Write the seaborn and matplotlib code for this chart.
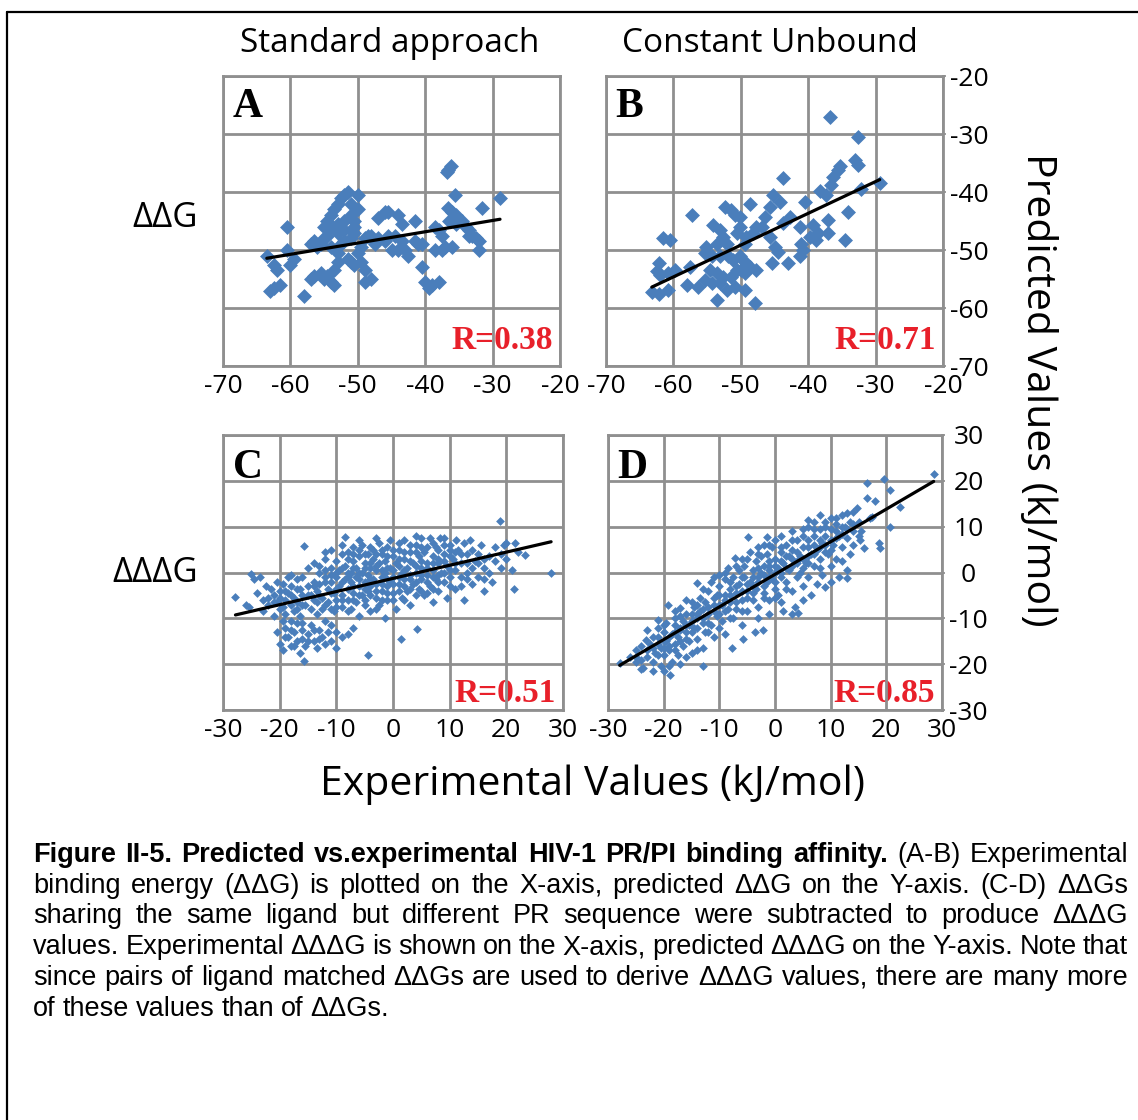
import numpy as np
import matplotlib
matplotlib.use("Agg")
import matplotlib.pyplot as plt
from matplotlib.lines import Line2D
import seaborn as sns

# ---- data (kJ/mol) ----
panel_a = [
    (-63.5, -51), (-62.5, -52.5), (-62, -53.5), (-62.5, -56.5), (-61.5, -56), (-63, -57),
    (-60.5, -46), (-60.5, -50), (-59.5, -51.5), (-60, -52.5),
    (-58, -58), (-57, -55), (-56.5, -54.5), (-55.5, -54), (-55, -55), (-54.5, -54.5),
    (-57, -49), (-56.5, -48.5), (-56, -49.5),
    (-54, -44), (-54, -46), (-53.5, -43), (-53, -42), (-53, -47), (-52.5, -41), (-52, -40.5),
    (-52, -45), (-51.5, -40), (-51, -42), (-51, -44), (-50.5, -46), (-50.5, -47), (-50, -40.5),
    (-50, -43), (-54.5, -47.5), (-55, -48), (-55.5, -49), (-54, -49.5), (-53, -50.5),
    (-52.5, -49), (-52, -48.5), (-51.5, -51.5), (-51, -52), (-50.5, -52.5), (-50, -50.5),
    (-49.5, -49.5), (-53.5, -53.5), (-53, -52), (-54, -55.5), (-53.5, -56), (-49.5, -52),
    (-49, -53.5), (-49, -55.5), (-48, -55), (-50.5, -45), (-51, -48), (-52, -46.5),
    (-53, -45.5), (-55, -46), (-54.5, -45), (-49, -48), (-48.5, -47.5), (-48, -47.5),
    (-47.5, -49),
    (-47, -44.5), (-46, -43.5), (-45.5, -43.5), (-44, -44), (-43.5, -45.5), (-45.5, -47.5),
    (-44.5, -47.5), (-43.5, -48.5), (-44, -50), (-45, -50), (-43, -50), (-42.5, -51),
    (-41.5, -45), (-46, -48.5), (-47, -48), (-41, -49), (-41.5, -48.5), (-40.5, -49),
    (-40.5, -53), (-40, -55.5), (-39.5, -56.5), (-39, -56), (-38, -55.5),
    (-38.5, -46), (-38, -46.5), (-37.5, -47.5), (-38.5, -50), (-37.5, -50), (-37, -49.5),
    (-36, -49.5), (-36.5, -45), (-36, -43.5), (-35.5, -45.5), (-34.5, -45), (-34, -46),
    (-33.5, -47.5), (-33, -47.5), (-32.5, -48), (-32, -48.5), (-32, -50), (-31.5, -42.8),
    (-28.9, -41.1), (-35.6, -40.5), (-36.6, -36.2), (-36.1, -35.6), (-36.8, -36.5),
    (-35.5, -44), (-36.6, -42.8), (-33.5, -46.5),
]

panel_b = [
    (-36.8, -27.0), (-32.6, -30.5), (-33.1, -34.5), (-32.6, -35.3), (-35.3, -35.6),
    (-35.6, -36.2), (-29.4, -38.5), (-32.1, -39.4), (-43.7, -37.6), (-36.3, -37.4),
    (-36.6, -38.8), (-38.3, -39.9), (-37.3, -40.5), (-45.2, -40.5), (-44.2, -41.7),
    (-45.7, -42.5), (-40.5, -41.7), (-48.7, -42.0), (-52.4, -42.5), (-51.4, -43.1),
    (-50.9, -44.0), (-57.3, -44.0), (-34.1, -43.4), (-37.0, -44.8), (-37.0, -47.1),
    (-34.6, -48.3), (-39.3, -45.7), (-38.5, -47.1), (-39.8, -47.7), (-38.8, -48.3),
    (-41.2, -46.0), (-41.0, -48.9), (-40.8, -50.0), (-41.2, -51.1), (-42.7, -44.3),
    (-43.7, -45.4), (-46.4, -44.3), (-46.9, -46.0), (-45.7, -47.7), (-45.0, -49.4),
    (-44.5, -50.3), (-47.7, -46.0), (-48.2, -47.1), (-49.2, -47.7), (-50.1, -44.3),
    (-50.1, -46.0), (-50.6, -47.1), (-49.4, -48.9), (-54.1, -45.7), (-53.1, -46.6),
    (-52.6, -47.7), (-53.6, -48.9), (-52.1, -48.9), (-61.5, -48.0), (-60.5, -48.3),
    (-55.1, -49.4), (-55.3, -50.6), (-54.3, -51.1), (-53.1, -51.1), (-51.9, -51.1),
    (-51.1, -51.7), (-50.1, -51.1), (-49.4, -52.0), (-54.6, -53.4), (-53.6, -54.0),
    (-52.6, -54.6), (-51.4, -54.6), (-50.6, -53.4), (-49.9, -53.4), (-48.7, -52.9),
    (-49.4, -54.0), (-47.7, -53.4), (-45.4, -52.3), (-43.0, -52.3), (-62.2, -52.3),
    (-62.5, -53.7), (-62.0, -54.3), (-60.8, -54.0), (-59.8, -53.4), (-57.5, -52.9),
    (-58.0, -56.0), (-56.3, -56.3), (-55.3, -55.2), (-54.3, -55.7), (-53.1, -55.7),
    (-52.1, -56.9), (-50.9, -56.3), (-49.4, -56.9), (-63.2, -57.2), (-62.2, -57.5),
    (-60.8, -56.9), (-53.6, -58.6), (-47.9, -59.2),
]

panel_c = [
    (-27.8, -5.3), (-25, -0.3), (-24.5, -1.5), (-23.5, -1.0), (-24, -4.5), (-23, -6),
    (-25.5, -7.5), (-22.5, -3), (-22, -5.5), (-23, -8.5), (-26, -7),
    (-21.5, -3.5), (-21, -5), (-20.5, -6.5), (-20, -4), (-20, -8), (-19.5, -2.5), (-19, -6),
    (-19, -9), (-18.5, -4.5), (-18, -7), (-18, -3), (-17.5, -5.5), (-17.5, -8.5), (-17, -1.5),
    (-17, -6.5), (-21, -9.5), (-20.5, -2), (-19.5, -10.5), (-18.5, -1), (-15.7, 5.8),
    (-18, -0.5), (-16.5, -3.5),
    (-20.5, -13), (-20, -15.5), (-19.5, -17), (-19, -12), (-18.5, -14), (-18, -16),
    (-17.5, -13), (-17, -15), (-17, -11), (-16.5, -17.5), (-16, -12.5), (-16, -14.5),
    (-15.7, -19.2), (-15.5, -16), (-15, -13.5), (-14.5, -11.5), (-14, -15), (-13.5, -16.5),
    (-13, -12.5), (-12.5, -14), (-12, -15.5), (-11.5, -13), (-11, -11.5), (-10, -16.5),
    (-9, -14), (-8, -13.5), (-18, -10.5), (-16.5, -9.5), (-13.5, -9), (-12, -10.5),
    (-16, -5), (-16, -1), (-15.5, -7), (-15, -3), (-15, 1), (-14.5, -5), (-14.5, -8),
    (-14, -2), (-14, 2), (-13.5, -4), (-13.5, -6.5), (-13, 0), (-13, -2.5), (-12.5, -5.5),
    (-12.5, -8), (-12, -1), (-12, 3), (-11.5, -3.5), (-11.5, -6.5), (-11, 1), (-11, -2),
    (-10.5, -4.5), (-10.5, -8.5), (-10, -1), (-10, 2.5), (-10, -6), (-8.4, 7.8),
    (-9.5, -3), (-9.5, 0.5), (-9, -5), (-9, -7.5), (-9, 4),
    (-8.5, -1.5), (-8.5, 1.5), (-8, -3.5), (-8, -6), (-8, 4.5), (-7.5, 0), (-7.5, -2),
    (-7.5, -8), (-7, 2.5), (-7, -4.5), (-7, 5.5), (-6.5, -1), (-6.5, -6.5), (-6.5, 1),
    (-6, 3.5), (-6, -3), (-6, -9.5), (-5.5, 0), (-5.5, -5), (-5.5, 6), (-5, 2), (-5, -2),
    (-5, -7), (-4.5, 4), (-4.5, -0.5), (-4.5, -4), (-4.4, -18), (-4, 1), (-4, -3),
    (-4, -8.5), (-3.5, 5), (-3.5, -1.5), (-3.5, 3), (-3, -5.5), (-3, 0.5), (-3, -2.5),
    (-2.5, 2), (-2.5, -7), (-2.5, 6.5), (-2, -1), (-2, 4), (-2, -4), (-1.5, 0),
    (-1.5, -10), (-1.5, 2.5), (-1, -3), (-1, 5.5), (-1, -6), (-0.5, 1), (-0.5, -2),
    (-0.5, 7), (0, 3.5), (0, -4.5), (0, -1), (0.5, -8), (1.4, -14.4),
    (0.5, 2), (1, -2.5), (1, 5), (1.5, 0), (1.5, -5.5), (2, 3), (2, -1.5), (2, 7),
    (2.5, 1), (2.5, -4), (3, 4.5), (3, -0.5), (3, -7), (3.5, 2), (3.5, -2.5), (4, 6),
    (4, 0), (4.3, -12.3), (4.5, -3.5), (4.5, 3.5), (5, 1), (5, -1.5), (5, 7.5), (5.5, -5),
    (5.5, 4.5), (6, 2), (6, -0.5), (6.5, 7.5), (6.5, -3), (7, 3.5), (7, 0.5), (7, -6.5),
    (7.5, 5.5), (7.5, -1.5), (8, 2), (8, -4), (8.3, 7.5), (8.5, 0), (9, 4), (9, -2),
    (9.5, -5.5), (9.5, 1.5), (10, 6), (10, -1),
    (10.5, 3), (11, -3.5), (11, 0.5), (11.2, 7.2), (11.5, 5), (12, -1), (12, 2),
    (12.5, -6), (13, 4), (13, 0), (13.5, 7), (14, -2.5), (14.5, 2.5), (15, -1), (15.5, 6),
    (16, -4), (16, 1), (17, 3.5), (17.5, -2), (18, 5.5), (18.8, 11.3), (19.5, 6), (19, 1),
    (20, 3), (21, 0.5), (21.3, -3.7), (22, 4.5), (23.3, 3.8), (27.9, 0), (21.5, 6.5),
    (12.5, 6.5), (15, 4),
    (-14, -3), (-13, -5), (-12, -2), (-11, -4.5), (-10, -3.5), (-9, -2), (-8, -1), (-7, -3),
    (-6, -1.5), (-5, -3.5), (-4, -1.5), (-3, -4), (-2, -2.5), (-1, -1.5), (0, -2.5), (1, -1),
    (2, -3), (3, -1.5), (4, -2), (5, -0.5), (6, -2), (7, -1), (8, -0.5), (9, 0), (10, 0.5),
    (-13, 1.5), (-12, 0.5), (-11, -0.5), (-10, 0), (-9, 1), (-8, 0), (-7, 1), (-6, 0),
    (-5, 1), (-4, 2), (-3, 1.5), (-2, 0.5), (-1, 1), (0, 0.5), (1, 1.5), (2, 0.5), (3, 2.5),
    (4, 1.5), (5, 2.5), (6, 1), (7, 2), (8, 3), (9, 2.5), (10, 3.5), (11, 2),
    (-14, -6), (-12, -7), (-11, -8), (-10, -7.5), (-9, -6), (-8, -8.5), (-7, -6), (-6, -5),
    (-5, -6), (-4, -5), (-3, -8), (-2, -6), (-1, -4.5), (0, -6), (1, -4), (2, -6),
    (3, -3.5), (4, -5), (5, -4), (6, -4.5), (7, -3.5), (8, -2), (10, -3),
    (-8, 3), (-7, 4), (-6, 5), (-5, 4), (-4, 5.5), (-3, 4), (-2, 5), (-1, 3.5), (0, 5),
    (1, 3), (2, 4.5), (3, 6), (4, 4.5), (5, 5.5), (6, 5.5), (7, 6.5), (8, 5), (9, 6),
    (10, 5), (11, 4.5), (12, 4), (13, 2), (14, 5),
    (-20, -5.5), (-19, -4), (-18, -5), (-17, -3.5), (-16, -7), (-15, -5), (-22, -7),
    (-21, -6.5), (-19.5, -7.5), (-17, -8),
    (-19, -14), (-18, -12.5), (-17.5, -16), (-16, -11), (-15, -15), (-14, -12.5),
    (-13, -14.5), (-11, -15), (-10, -13), (-7, -12),
    (12, -3), (13, -1.5), (14, 1), (15, 2), (16, 3), (17, 0), (18, 2.5), (19, 4), (20, 6.5),
    (16, -1.5), (-6, 7), (-3, 7.5), (1, 6.5), (4, 8), (9, 7.5), (-11, 5), (-12, 4.5), (-9, 6),
]

panel_d = [
    (-27.9, -19.8), (-26, -18.5), (-25, -19.5), (-24.9, -18.4), (-24, -16), (-23.7, -20.9),
    (-23.1, -14.7), (-23, -17), (-22.5, -15.5), (-22, -19.5), (-21.5, -17.5), (-21, -10.4),
    (-21, -14), (-20.5, -16.5), (-20.5, -20.5), (-20, -13), (-20, -18), (-20, -21.5),
    (-19.5, -15), (-19.5, -11),
    (-19.2, -7.1), (-19, -17), (-18.9, -22.4), (-18.5, -13.5), (-18.5, -19.5), (-18, -11.5),
    (-18, -15.5), (-17.5, -14), (-17.5, -18), (-17.1, -7.8), (-17, -12.5), (-17, -9.5),
    (-16.5, -16), (-16.5, -10.5), (-16, -13), (-16, -6), (-15.5, -11.5), (-15.5, -15),
    (-15, -9), (-15, -17.5), (-14.5, -7.5), (-14.5, -12), (-14.1, -2.2), (-14, -10),
    (-14, -14.5), (-13.5, -5.5), (-13.5, -8.5), (-13, -11), (-12.9, -20.5), (-13, -16.5),
    (-12.5, -6.5), (-12.5, -13),
    (-12, -4), (-12, -9), (-11.5, -11.5), (-11.5, -2), (-11, -7), (-11, -14), (-10.5, -5),
    (-10.5, -9.5), (-10, -3), (-10, -12), (-10, -0.5), (-9.5, -7), (-9.5, -10.5),
    (-9, -1.5), (-9, -5), (-9, -13.5), (-8.5, -8), (-8.5, 1), (-8, -3.5), (-8, -6.5),
    (-7.8, -16.5), (-7.5, -1), (-7.5, -10), (-7.2, 3.1), (-7, -4.5), (-7, -8), (-6.5, 0.5),
    (-6.5, -2.5), (-6, -6), (-6, -11.5), (-6, 3), (-5.7, -14.4), (-5.5, -1), (-5.5, 1.5),
    (-5, -4), (-5, -8.5), (-4.8, 7.8), (-4.5, 4.5), (-4.5, -2), (-4, -6), (-4, 0.5),
    (-3.6, -12.9), (-3.5, 2.5), (-3.5, -3.5), (-3, 5.5), (-3, -1), (-3, -7.5), (-2.5, 3.5),
    (-2.5, 0), (-2.1, -12.5), (-2, 6), (-2, -4.5), (-2, 1.5), (-1.5, 7.8), (-1.5, -2),
    (-1.5, 4), (-1, 0.5), (-1, -6), (-1, 2.5), (-0.5, 5.5), (-0.5, -1.5), (0, 3),
    (0, -3.5), (0, 7), (0.5, 1), (0.5, -5), (1, 4.5), (1, -1), (1, 8), (1.5, 2),
    (1.5, -8.5), (2, 6), (2, -2), (2.5, 3.5), (2.5, 0.5), (3, 9), (3, -4), (3, 5),
    (3.6, -7.5), (3.9, 2), (4, 7),
    (4.2, -8.9), (4.5, 3.5), (4.5, 0), (5, 9.5), (5, 5.5), (5, -3), (5.5, 2), (6, 10),
    (6, 7), (6, -1), (6.5, 4), (6.5, -5), (7, 11), (7, 8), (7, 1.5), (7.5, 5), (7.5, -2.5),
    (8, 9.5), (8, 3), (8.5, 6.5), (8.5, -0.5), (9, -3.1), (9, 11), (9, 8), (9.5, 4),
    (10, 12), (10, 9.5), (10, 1.5), (10.5, 6), (11, 10.5), (11, 3), (11.5, 8), (11.5, -1),
    (12, 12.5), (12, 5.5),
    (12.5, 10), (12.9, 0.5), (12.9, -1.3), (13, 7.5), (13.5, 11), (13.5, 4), (14, 9),
    (14.1, 13.3), (14.7, 14), (15, 11), (15.3, 7.1), (15.5, 9), (15.9, 5.3), (16.5, 19.5),
    (16.5, 16.2), (17, 12), (17.4, 12.2), (18, 15.5), (18.6, 6.4), (18.9, 5.3),
    (19.5, 20.5), (20.7, 18), (20.7, 10), (22.5, 14.4), (28.5, 21.5),
    (-25, -17), (-24, -19), (-23, -18.5), (-22, -16.5), (-22, -14), (-21, -18), (-21, -15.5),
    (-20, -15), (-20, -16.5), (-19, -14), (-19, -16), (-18, -13), (-18, -17), (-17, -12),
    (-17, -15), (-16, -11.5), (-16, -14.5), (-15, -10.5), (-15, -13), (-14, -9), (-14, -12),
    (-13, -8), (-13, -10), (-12, -7.5), (-12, -11), (-11, -8.5), (-11, -5.5), (-10, -7),
    (-10, -9), (-9, -6), (-9, -8.5), (-8, -5), (-8, -2), (-7, -3), (-7, -6.5), (-6, -4),
    (-6, -1), (-5, -2.5), (-5, -5.5), (-4, -3), (-4, -1), (-3, -2), (-3, 1), (-2, -0.5),
    (-2, -3), (-1, -1), (-1, 1.5), (0, 0), (0, -2), (0, 1.5), (1, 0), (1, 2.5), (2, 1),
    (2, 3.5), (3, 1.5), (3, 3), (4, 2.5), (4, 4.5), (5, 3), (5, 1), (6, 3.5), (6, 5.5),
    (7, 4), (7, 6), (8, 5.5), (8, 7), (9, 6), (9, 4.5), (10, 7), (10, 5), (11, 7.5),
    (11, 9), (12, 8.5), (12, 10), (13, 9.5), (14, 10.5), (15, 8),
    (-6, -8.5), (-4, -4.5), (-2, -5.5), (0, -5.5), (2, -3.5), (4, -1), (6, 2), (8, 1),
    (-10, -5), (-8, -10), (-12, -13), (-14, -7), (-16, -9), (-18, -10), (-20, -11.5),
    (-15, -6.5), (-13, -3.5), (-11, -1), (-9, 0), (-7, 1.5), (-5, 3), (-3, 4), (-1, 6),
    (1, 5.5), (3, 7), (5, 8), (7, 9.5), (9, 10), (-24, -21), (-22, -21.5), (-19, -20.5),
    (-17, -20), (-16, -18.5), (-14, -17), (-23, -12.5), (-21, -12), (-18, -8.5), (6, 11.5),
    (8, 12.5), (11, 12), (13, 13), (10, -2), (12, 2.5), (14, 6), (-3, -10), (-1, -9),
    (1, -6.5), (5, -6), (3, -9),
]

letters = ["A", "B", "C", "D"]
r_values = ["R=0.38", "R=0.71", "R=0.51", "R=0.85"]
col_titles = ["Standard approach", "Constant Unbound"]
row_labels = ["\u0394\u0394G", "\u0394\u0394\u0394G"]
ticks_top = [-70, -60, -50, -40, -30, -20]
ticks_bottom = [-30, -20, -10, 0, 10, 20, 30]

caption_lines = [
    "Figure II-5. Predicted vs.experimental HIV-1 PR/PI binding affinity. (A-B) Experimental",
    "binding energy (\u0394\u0394G) is plotted on the X-axis, predicted \u0394\u0394G on the Y-axis. (C-D) \u0394\u0394Gs",
    "sharing the same ligand but different PR sequence were subtracted to produce \u0394\u0394\u0394G",
    "values. Experimental \u0394\u0394\u0394G is shown on the X-axis, predicted \u0394\u0394\u0394G on the Y-axis. Note that",
    "since pairs of ligand matched \u0394\u0394Gs are used to derive \u0394\u0394\u0394G values, there are many more",
    "of these values than of \u0394\u0394Gs.",
]
n_bold = 8

# ---- style ----
sns.set_theme(style="white")
plt.rcParams["font.family"] = ["Open Sans", "DejaVu Sans"]
plt.rcParams["axes.unicode_minus"] = False
plt.rcParams["text.color"] = "black"
plt.rcParams["xtick.color"] = "black"
plt.rcParams["ytick.color"] = "black"

W, H = 1138, 1120
fig = plt.figure(figsize=(W / 100, H / 100), dpi=100)
fig.patch.set_facecolor("white")

blue = "#4a7ebb"
grid_gray = "#8f8f8f"
serif = ["Liberation Serif", "DejaVu Serif"]

# axes boxes in pixels: left, top, right, bottom
boxes = [(223, 76, 560, 366), (606, 76, 943, 366),
         (223, 435, 563, 710), (608, 435, 942, 710)]
datasets = [panel_a, panel_b, panel_c, panel_d]

for i, (l, t, r, b) in enumerate(boxes):
    ax = fig.add_axes([l / W, 1 - b / H, (r - l) / W, (b - t) / H])
    pts = np.array(datasets[i])
    big = i < 2
    ticks = ticks_top if big else ticks_bottom
    sns.scatterplot(x=pts[:, 0], y=pts[:, 1], ax=ax, marker="D",
                    s=58 if big else 20, color=blue, linewidth=0, zorder=3)
    sns.regplot(x=pts[:, 0], y=pts[:, 1], ax=ax, scatter=False, ci=None,
                truncate=True, line_kws=dict(color="black", lw=2.3, zorder=4))
    ax.set_xlim(ticks[0], ticks[-1])
    ax.set_ylim(ticks[0], ticks[-1])
    ax.set_xticks(ticks)
    ax.set_yticks(ticks)
    ax.set_xlabel("")
    ax.set_ylabel("")
    ax.grid(True, color=grid_gray, lw=2.0)
    ax.set_axisbelow(True)
    for sp in ax.spines.values():
        sp.set_color(grid_gray)
        sp.set_linewidth(2.0)
    ax.tick_params(axis="x", length=0, pad=6, labelsize=19, labelcolor="black")
    if i % 2 == 1:
        ax.yaxis.tick_right()
        ax.tick_params(axis="y", length=2, color=grid_gray, pad=17, labelsize=19,
                       labelcolor="black")
        for lab in ax.get_yticklabels():
            lab.set_horizontalalignment("center")
    else:
        ax.tick_params(axis="y", length=0, labelleft=False)
    ax.text(0.028, 0.86 if big else 0.845, letters[i], transform=ax.transAxes,
            fontsize=30, fontweight="bold", family=serif, color="black",
            ha="left", va="baseline", zorder=0.2)
    ax.text(0.978, 0.06 if big else 0.03, r_values[i], transform=ax.transAxes,
            fontsize=24, fontweight="bold", family=serif, color="#e8202a",
            ha="right", va="baseline", zorder=0.2)

# column titles, row labels, axis titles
fig.text(390 / W, 1 - 44 / H, col_titles[0], fontsize=24, ha="center", va="center")
fig.text(770 / W, 1 - 44 / H, col_titles[1], fontsize=24, ha="center", va="center")
fig.text(198 / W, 1 - 218 / H, row_labels[0], fontsize=25, ha="right", va="center")
fig.text(198 / W, 1 - 573 / H, row_labels[1], fontsize=25, ha="right", va="center")
fig.text(592 / W, 1 - 785 / H, "Experimental Values (kJ/mol)", fontsize=29.5,
         ha="center", va="center")
fig.text(1037 / W, 1 - 390 / H, "Predicted Values (kJ/mol)", fontsize=29.5,
         rotation=270, ha="center", va="center")

# outer frame (top and left edges)
fig.add_artist(Line2D([7 / W, 1], [1 - 12 / H, 1 - 12 / H], color="black", lw=1.6))
fig.add_artist(Line2D([7 / W, 7 / W], [0, 1 - 12 / H], color="black", lw=1.6))

# justified caption: pick the largest size whose lines still fit with normal gaps
cap_font = ["Liberation Sans", "DejaVu Sans"]
renderer = fig.canvas.get_renderer()
left_px, right_px = 33, 1128
cap_size = 21.0
while True:
    rows = []
    ok = True
    for i, line in enumerate(caption_lines):
        words = line.split(" ")
        y = 1 - (855 + i * 30.7) / H
        arts = []
        for j, w in enumerate(words):
            weight = "bold" if (i == 0 and j < n_bold) else "normal"
            arts.append(fig.text(0, y, w, fontsize=cap_size, fontweight=weight,
                                 family=cap_font, color="black", ha="left", va="center"))
        widths = [a.get_window_extent(renderer).width for a in arts]
        if i == len(caption_lines) - 1:
            gap = cap_size * 0.35
        else:
            gap = (right_px - left_px - sum(widths)) / (len(words) - 1)
            if gap < cap_size * 0.25:
                ok = False
        rows.append((arts, widths, gap))
    if ok or cap_size < 12:
        break
    for arts, _, _ in rows:
        for a in arts:
            a.remove()
    cap_size -= 0.5

for arts, widths, gap in rows:
    x = left_px
    for a, w in zip(arts, widths):
        a.set_x(x / W)
        x += w + gap

fig.savefig("out.png", dpi=100)
